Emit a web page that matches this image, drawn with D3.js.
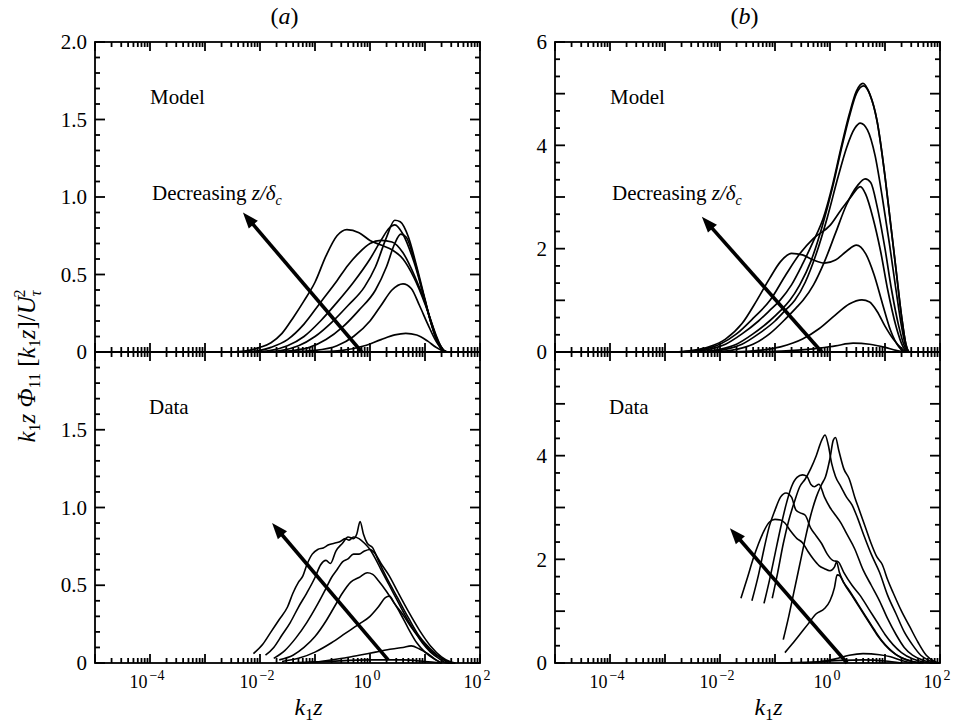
<!DOCTYPE html>
<html>
<head>
<meta charset="utf-8">
<script src="https://cdn.jsdelivr.net/npm/d3@7"></script>
<style>
body{margin:0;background:#fff;}
svg{display:block;font-family:"Liberation Serif","Times New Roman",serif;color:#000;}
</style>
</head>
<body>
<div id="chart"></div>
<script>
// every curve is a list of [log10(k1z), value]
var kTickExp = [-4, -2, 0, 2];
var yTicksA = [0, 0.5, 1.0, 1.5, 2.0];
var yTicksB = [0, 2, 4, 6];

// (a) model
var modelA = [
  [[-2.5,0],[-2.2,0.01],[-2.0,0.03],[-1.8,0.06],[-1.6,0.12],[-1.4,0.22],[-1.2,0.33],[-1.0,0.45],[-0.8,0.62],[-0.6,0.75],[-0.42,0.79],[-0.2,0.77],[0,0.72],[0.2,0.69],[0.4,0.66],[0.6,0.6],[0.8,0.48],[1.0,0.31],[1.1,0.21],[1.2,0.11],[1.3,0.03],[1.4,0],[1.5,0]],
  [[-2.3,0],[-2.0,0.01],[-1.8,0.03],[-1.5,0.08],[-1.2,0.18],[-0.9,0.32],[-0.6,0.46],[-0.4,0.56],[-0.2,0.64],[0,0.7],[0.2,0.72],[0.4,0.71],[0.6,0.64],[0.8,0.5],[1.0,0.32],[1.1,0.21],[1.2,0.1],[1.3,0.03],[1.4,0],[1.5,0]],
  [[-2.1,0],[-1.8,0.01],[-1.5,0.04],[-1.2,0.1],[-0.9,0.2],[-0.6,0.32],[-0.3,0.45],[0,0.6],[0.2,0.72],[0.35,0.8],[0.45,0.82],[0.6,0.76],[0.8,0.58],[1.0,0.33],[1.1,0.2],[1.2,0.09],[1.3,0.02],[1.4,0],[1.5,0]],
  [[-1.9,0],[-1.6,0.01],[-1.3,0.04],[-1.0,0.1],[-0.7,0.19],[-0.4,0.3],[-0.1,0.42],[0.1,0.55],[0.3,0.74],[0.45,0.85],[0.55,0.84],[0.7,0.74],[0.85,0.55],[1.0,0.34],[1.1,0.2],[1.2,0.09],[1.3,0.02],[1.4,0],[1.5,0]],
  [[-1.7,0],[-1.4,0.01],[-1.1,0.03],[-0.8,0.08],[-0.5,0.16],[-0.2,0.27],[0.1,0.4],[0.3,0.55],[0.45,0.7],[0.56,0.76],[0.66,0.74],[0.8,0.6],[0.95,0.4],[1.1,0.2],[1.2,0.09],[1.3,0.02],[1.4,0],[1.5,0]],
  [[-1.5,0],[-1.0,0.01],[-0.6,0.04],[-0.3,0.1],[0,0.2],[0.2,0.3],[0.4,0.4],[0.6,0.44],[0.75,0.41],[0.9,0.3],[1.05,0.18],[1.2,0.07],[1.3,0.02],[1.4,0],[1.5,0]],
  [[-1.0,0],[-0.5,0.01],[-0.1,0.04],[0.2,0.08],[0.45,0.11],[0.65,0.12],[0.85,0.11],[1.05,0.07],[1.2,0.03],[1.35,0.005],[1.5,0]]
];

// (a) data
var dataA = [
  [[-2.12,0.06],[-1.95,0.12],[-1.8,0.2],[-1.65,0.28],[-1.5,0.36],[-1.4,0.45],[-1.3,0.52],[-1.22,0.56],[-1.15,0.63],[-1.05,0.7],[-0.95,0.73],[-0.85,0.74],[-0.75,0.76],[-0.65,0.77],[-0.55,0.78],[-0.45,0.8],[-0.38,0.79],[-0.3,0.81],[-0.2,0.8],[-0.1,0.77],[0.0,0.73],[0.1,0.67],[0.2,0.6],[0.35,0.5],[0.5,0.4],[0.65,0.3],[0.8,0.21],[0.95,0.13],[1.1,0.07],[1.25,0.03],[1.4,0],[1.5,0]],
  [[-1.9,0.05],[-1.75,0.1],[-1.6,0.18],[-1.45,0.26],[-1.3,0.36],[-1.15,0.45],[-1.0,0.55],[-0.9,0.63],[-0.8,0.66],[-0.72,0.64],[-0.62,0.72],[-0.5,0.77],[-0.4,0.81],[-0.3,0.8],[-0.24,0.83],[-0.18,0.91],[-0.12,0.83],[-0.05,0.77],[0.05,0.74],[0.15,0.66],[0.3,0.55],[0.5,0.42],[0.7,0.29],[0.9,0.17],[1.1,0.09],[1.3,0.03],[1.45,0],[1.55,0]],
  [[-1.75,0.03],[-1.55,0.08],[-1.35,0.16],[-1.15,0.26],[-0.95,0.38],[-0.8,0.48],[-0.7,0.55],[-0.6,0.6],[-0.5,0.65],[-0.4,0.67],[-0.3,0.7],[-0.2,0.7],[-0.1,0.72],[0.0,0.73],[0.08,0.71],[0.2,0.64],[0.35,0.56],[0.5,0.46],[0.7,0.33],[0.9,0.21],[1.1,0.11],[1.3,0.04],[1.45,0.01],[1.55,0]],
  [[-1.65,0.02],[-1.4,0.05],[-1.2,0.1],[-1.0,0.17],[-0.8,0.27],[-0.65,0.36],[-0.5,0.45],[-0.35,0.52],[-0.2,0.55],[-0.05,0.58],[0.05,0.57],[0.15,0.53],[0.3,0.46],[0.45,0.38],[0.6,0.31],[0.75,0.23],[0.9,0.16],[1.1,0.08],[1.3,0.03],[1.5,0]],
  [[-1.6,0.01],[-1.3,0.03],[-1.0,0.07],[-0.7,0.13],[-0.45,0.19],[-0.2,0.25],[0.0,0.3],[0.15,0.36],[0.28,0.42],[0.35,0.43],[0.45,0.38],[0.55,0.32],[0.7,0.22],[0.85,0.13],[1.0,0.07],[1.15,0.03],[1.3,0]],
  [[-1.3,0],[-0.9,0.01],[-0.5,0.03],[-0.2,0.05],[0.1,0.07],[0.4,0.09],[0.6,0.1],[0.75,0.11],[0.9,0.09],[1.05,0.06],[1.2,0.02],[1.3,0]],
  [[-1.5,0],[-0.8,0.01],[0,0.02],[0.6,0.02],[1.0,0.01],[1.3,0]]
];

// (b) model
var modelB = [
  [[-2.8,0],[-2.5,0.03],[-2.2,0.1],[-1.9,0.25],[-1.6,0.55],[-1.33,1.0],[-1.1,1.42],[-0.9,1.75],[-0.7,1.91],[-0.5,1.88],[-0.3,1.78],[-0.1,1.72],[0.1,1.78],[0.3,1.95],[0.48,2.07],[0.65,1.9],[0.8,1.5],[0.95,0.95],[1.1,0.42],[1.25,0.1],[1.38,0],[1.5,0]],
  [[-2.7,0],[-2.3,0.05],[-2.0,0.15],[-1.7,0.35],[-1.4,0.65],[-1.09,1.0],[-0.8,1.5],[-0.55,1.9],[-0.3,2.2],[0,2.45],[0.2,2.75],[0.38,3.0],[0.55,3.2],[0.65,3.05],[0.78,2.6],[0.92,1.95],[1.05,1.2],[1.2,0.5],[1.32,0.12],[1.42,0],[1.5,0]],
  [[-2.6,0],[-2.2,0.05],[-1.9,0.15],[-1.6,0.35],[-1.3,0.6],[-1.1,0.8],[-0.91,1.0],[-0.7,1.3],[-0.5,1.7],[-0.3,2.15],[-0.12,2.6],[0.05,3.25],[0.2,3.95],[0.35,4.6],[0.48,5.05],[0.6,5.2],[0.72,5.0],[0.85,4.5],[1.0,3.4],[1.1,2.5],[1.2,1.6],[1.3,0.7],[1.38,0.15],[1.45,0],[1.5,0]],
  [[-2.4,0],[-2.0,0.05],[-1.7,0.15],[-1.4,0.35],[-1.1,0.6],[-0.9,0.8],[-0.73,1.0],[-0.55,1.3],[-0.35,1.75],[-0.15,2.4],[0.05,3.2],[0.2,3.9],[0.35,4.55],[0.48,5.0],[0.61,5.15],[0.73,4.97],[0.86,4.45],[1.0,3.4],[1.1,2.5],[1.2,1.6],[1.3,0.7],[1.38,0.15],[1.45,0],[1.5,0]],
  [[-2.3,0],[-1.9,0.05],[-1.6,0.15],[-1.3,0.35],[-1.0,0.6],[-0.8,0.82],[-0.64,1.0],[-0.45,1.35],[-0.25,1.9],[-0.05,2.6],[0.15,3.4],[0.3,3.95],[0.45,4.33],[0.55,4.43],[0.68,4.3],[0.82,3.8],[0.95,3.0],[1.08,2.1],[1.2,1.2],[1.3,0.5],[1.38,0.1],[1.45,0],[1.5,0]],
  [[-2.1,0],[-1.7,0.05],[-1.4,0.15],[-1.1,0.35],[-0.8,0.65],[-0.62,0.85],[-0.49,1.0],[-0.3,1.3],[-0.1,1.75],[0.1,2.3],[0.3,2.85],[0.5,3.22],[0.64,3.35],[0.74,3.28],[0.86,2.8],[1.0,2.0],[1.12,1.2],[1.25,0.5],[1.35,0.12],[1.42,0],[1.5,0]],
  [[-1.8,0],[-1.3,0.03],[-0.9,0.1],[-0.5,0.25],[-0.2,0.45],[0.1,0.72],[0.35,0.93],[0.58,1.01],[0.72,0.97],[0.86,0.78],[1.0,0.5],[1.15,0.25],[1.3,0.07],[1.4,0],[1.5,0]],
  [[-1.5,0],[-0.8,0.02],[-0.3,0.06],[0.1,0.12],[0.42,0.17],[0.72,0.15],[1.0,0.09],[1.2,0.03],[1.35,0],[1.5,0]]
];

// (b) data
var dataB = [
  [[-1.62,1.25],[-1.5,1.65],[-1.4,2.0],[-1.3,2.3],[-1.2,2.55],[-1.1,2.72],[-1.0,2.77],[-0.9,2.76],[-0.82,2.7],[-0.72,2.55],[-0.6,2.4],[-0.5,2.32],[-0.4,2.15],[-0.3,2.0],[-0.2,1.88],[-0.1,1.82],[0.0,1.78],[0.08,1.85],[0.12,1.95],[0.17,1.75],[0.25,1.55],[0.4,1.3],[0.55,1.05],[0.7,0.8],[0.85,0.55],[1.0,0.35],[1.15,0.2],[1.3,0.1],[1.5,0.03],[1.7,0]],
  [[-1.42,1.2],[-1.3,1.7],[-1.2,2.2],[-1.1,2.65],[-1.0,2.95],[-0.9,3.2],[-0.8,3.28],[-0.7,3.2],[-0.62,2.95],[-0.55,2.9],[-0.45,2.85],[-0.35,2.6],[-0.25,2.45],[-0.15,2.3],[-0.05,2.1],[0.05,1.98],[0.15,1.95],[0.25,1.75],[0.4,1.5],[0.55,1.3],[0.7,1.05],[0.85,0.8],[1.0,0.55],[1.15,0.35],[1.3,0.2],[1.5,0.08],[1.7,0.02],[1.85,0]],
  [[-1.2,1.15],[-1.1,1.6],[-1.0,2.1],[-0.9,2.6],[-0.8,3.05],[-0.7,3.4],[-0.6,3.58],[-0.5,3.63],[-0.42,3.6],[-0.35,3.45],[-0.28,3.4],[-0.2,3.45],[-0.1,3.2],[0.0,3.0],[0.1,2.85],[0.2,2.7],[0.3,2.5],[0.45,2.2],[0.6,1.8],[0.75,1.5],[0.9,1.2],[1.05,0.85],[1.2,0.55],[1.35,0.3],[1.5,0.15],[1.7,0.05],[1.9,0]],
  [[-1.05,1.25],[-0.95,1.75],[-0.85,2.3],[-0.75,2.75],[-0.65,3.1],[-0.55,3.4],[-0.45,3.55],[-0.35,3.75],[-0.25,4.0],[-0.15,4.3],[-0.09,4.4],[-0.03,4.2],[0.03,3.85],[0.1,3.6],[0.2,3.4],[0.3,3.2],[0.4,3.05],[0.5,2.8],[0.62,2.45],[0.75,2.1],[0.9,1.75],[1.05,1.3],[1.2,0.95],[1.35,0.6],[1.5,0.35],[1.65,0.15],[1.8,0.05],[1.95,0]],
  [[-0.85,0.45],[-0.75,0.9],[-0.65,1.4],[-0.55,1.9],[-0.45,2.4],[-0.35,2.85],[-0.25,3.2],[-0.15,3.45],[-0.08,3.6],[0.0,3.95],[0.06,4.3],[0.1,4.35],[0.16,4.1],[0.25,3.75],[0.35,3.55],[0.45,3.2],[0.55,2.9],[0.65,2.6],[0.75,2.3],[0.85,2.05],[0.95,1.9],[1.05,1.6],[1.15,1.35],[1.3,1.0],[1.45,0.7],[1.6,0.4],[1.75,0.15],[1.9,0.03],[2.0,0]],
  [[-0.82,0.2],[-0.7,0.35],[-0.55,0.55],[-0.4,0.75],[-0.25,0.95],[-0.1,1.05],[0.0,1.2],[0.08,1.45],[0.13,1.7],[0.18,1.68],[0.25,1.55],[0.35,1.4],[0.5,1.15],[0.65,0.9],[0.8,0.65],[0.95,0.42],[1.1,0.25],[1.3,0.1],[1.5,0.03],[1.65,0]],
  [[-0.5,0],[-0.2,0.02],[0.1,0.08],[0.35,0.15],[0.6,0.18],[0.9,0.16],[1.1,0.12],[1.3,0.05],[1.5,0]],
  [[-1.0,0],[-0.3,0.02],[0.2,0.05],[0.6,0.06],[1.0,0.04],[1.3,0]]
];

// arrows: [tail, head] in [log10(k1z), value]
var arrowsA = [[[-0.15,0],[-2.31,0.9]], [[0.33,0.02],[-1.78,0.9]]];
var arrowsB = [[[-0.15,0],[-2.33,2.62]], [[0.31,0],[-1.82,2.6]]];

var W = 954, H = 725;
var yTop = 42, yMid = 352, yBot = 663;

var svg = d3.select("#chart").append("svg")
  .attr("width", W)
  .attr("height", H);

svg.append("rect").attr("width", W).attr("height", H).attr("fill", "#fff");

var panels = [
  {name:"a", x0:95, x1:480, ymax:2, labels:yTicksA, minorStep:0.1, midStep:0.5,
   fmt:function(d){ return d === 0 ? "0" : d3.format(".1f")(d); },
   top:modelA, bottom:dataA, arrows:arrowsA},
  {name:"b", x0:555, x1:940, ymax:6, labels:yTicksB, minorStep:1/3, midStep:1,
   fmt:function(d){ return String(d); },
   top:modelB, bottom:dataB, arrows:arrowsB}
];

panels.forEach(drawPanel);

function drawPanel(p){
  var x = d3.scaleLog().domain([1e-5, 1e2]).range([p.x0, p.x1]);
  var yU = d3.scaleLinear().domain([0, p.ymax]).range([yMid, yTop]);
  var yL = d3.scaleLinear().domain([0, p.ymax]).range([yBot, yMid]);
  var g = svg.append("g").attr("class", "panel-" + p.name);
  var tg = g.append("g").attr("class", "ticks").attr("stroke", "#000").attr("stroke-width", 1.8);

  var allK = x.ticks();
  var isMajor = function(t){ var l = Math.log10(t); return Math.abs(l - Math.round(l)) < 1e-6; };

  // x ticks on top edge, middle line (both ways) and bottom edge
  function xTicks(y0, dir){
    tg.append("g").selectAll("line").data(allK).enter().append("line")
    .attr("x1", function(d){ return x(d); })
    .attr("x2", function(d){ return x(d); })
    .attr("y1", y0)
    .attr("y2", function(d){ return y0 + dir * (isMajor(d) ? 9 : 5); });
  }
  xTicks(yTop, 1);
  xTicks(yMid, -1);
  xTicks(yMid, 1);
  xTicks(yBot, -1);

  // y ticks, both sides, both plots
  var nMinor = Math.round(p.ymax / p.minorStep);
  var minorY = d3.range(0, nMinor + 1).map(function(i){ return i * p.minorStep; });
  var isMid = function(v){ var r = v / p.midStep; return Math.abs(r - Math.round(r)) < 1e-6; };

  [yU, yL].forEach(function(y, idx){
    [[p.x0, 1], [p.x1, -1]].forEach(function(side){
      tg.append("g").selectAll("line").data(minorY).enter().append("line")
      .attr("y1", function(d){ return y(d); })
      .attr("y2", function(d){ return y(d); })
      .attr("x1", side[0])
      .attr("x2", function(d){ return side[0] + side[1] * (isMid(d) ? 10 : 5); });
    });
    var lab = idx === 0 ? p.labels : p.labels.filter(function(d){ return d < p.ymax; });
    g.append("g").attr("transform", "translate(" + p.x0 + ",0)")
    .call(d3.axisLeft(y).tickValues(lab).tickSize(0).tickPadding(8).tickFormat(p.fmt))
    .call(function(s){
      s.select(".domain").remove();
      s.selectAll("text").attr("font-family", "Liberation Serif, serif").attr("font-size", 21).attr("fill", "#000");
    });
  });

  // frame
  g.append("rect")
  .attr("x", p.x0).attr("y", yTop)
  .attr("width", p.x1 - p.x0).attr("height", yBot - yTop)
  .attr("fill", "none").attr("stroke", "#000").attr("stroke-width", 1.8);
  g.append("line")
  .attr("x1", p.x0).attr("x2", p.x1).attr("y1", yMid).attr("y2", yMid)
  .attr("stroke", "#000").attr("stroke-width", 1.8);

  // curves
  function lineFor(y){
    return d3.line()
    .x(function(d){ return x(Math.pow(10, d[0])); })
    .y(function(d){ return y(d[1]); })
    .curve(d3.curveMonotoneX);
  }
  g.append("g").selectAll("path").data(p.top).enter().append("path")
  .attr("d", lineFor(yU))
  .attr("fill", "none").attr("stroke", "#000").attr("stroke-width", 1.7);
  g.append("g").selectAll("path").data(p.bottom).enter().append("path")
  .attr("d", lineFor(yL))
  .attr("fill", "none").attr("stroke", "#000").attr("stroke-width", 1.6);

  // arrows
  [yU, yL].forEach(function(y, i){
    var a = p.arrows[i];
    var t = [x(Math.pow(10, a[0][0])), y(a[0][1])],
    h = [x(Math.pow(10, a[1][0])), y(a[1][1])];
    var dx = h[0] - t[0], dy = h[1] - t[1], len = Math.sqrt(dx*dx + dy*dy);
    var ux = dx / len, uy = dy / len, L = 16, Wd = 6;
    var b = [h[0] - ux * L, h[1] - uy * L];
    g.append("line")
    .attr("x1", t[0]).attr("y1", t[1]).attr("x2", b[0] + ux * 2).attr("y2", b[1] + uy * 2)
    .attr("stroke", "#000").attr("stroke-width", 3.6);
    g.append("path")
    .attr("d", "M" + h[0] + "," + h[1] + "L" + (b[0] - uy * Wd) + "," + (b[1] + ux * Wd) +
      "L" + (b[0] + uy * Wd) + "," + (b[1] - ux * Wd) + "Z")
    .attr("fill", "#000");
  });

  // x tick labels 10^n
  var lbl = g.append("g").selectAll("text").data(kTickExp).enter().append("text")
  .attr("x", function(d){ return x(Math.pow(10, d)) - 3; })
  .attr("y", 688)
  .attr("text-anchor", "middle")
  .attr("font-size", 18);
  lbl.append("tspan").text("10");
  lbl.append("tspan").attr("dx", 2).attr("dy", -8).attr("font-size", 14)
  .text(function(d){ return d < 0 ? "\u2212" + (-d) : d; });

  // annotations
  var tx = x(1e-4);
  g.append("text").attr("x", tx).attr("y", yU(p.ymax * 0.8)).attr("font-size", 21).text("Model");
  g.append("text").attr("x", tx - 1).attr("y", yL(p.ymax * 0.8)).attr("font-size", 21).text("Data");
  var dec = g.append("text").attr("x", tx + 2).attr("y", yU(p.ymax * 0.49)).attr("font-size", 21);
  dec.append("tspan").text("Decreasing ");
  dec.append("tspan").attr("font-style", "italic").text("z/\u03b4");
  dec.append("tspan").attr("font-style", "italic").attr("font-size", 14).attr("dy", 5).text("c");

  // panel title
  var ttl = g.append("text").attr("x", (p.x0 + p.x1) / 2 - 3).attr("y", 24)
  .attr("text-anchor", "middle").attr("font-size", 24);
  ttl.append("tspan").text("(");
  ttl.append("tspan").attr("font-style", "italic").text(p.name);
  ttl.append("tspan").text(")");

  // x axis title
  var xt = g.append("text").attr("x", (p.x0 + p.x1) / 2 + 21).attr("y", 715)
  .attr("text-anchor", "middle").attr("font-size", 24);
  xt.append("tspan").attr("font-style", "italic").text("k");
  xt.append("tspan").attr("font-size", 16).attr("dy", 5).text("1");
  xt.append("tspan").attr("font-style", "italic").attr("dy", -5).text("z");
}

// shared y-axis title
var yt = svg.append("text")
  .attr("transform", "translate(35," + (yMid + 14) + ") rotate(-90)")
  .attr("text-anchor", "middle")
  .attr("font-size", 25);
yt.append("tspan").attr("font-style", "italic").text("k");
yt.append("tspan").attr("font-size", 16).attr("dy", 5).text("1");
yt.append("tspan").attr("font-style", "italic").attr("dy", -5).text("z ");
yt.append("tspan").attr("font-style", "italic").text("\u03a6");
yt.append("tspan").attr("font-size", 16).attr("dy", 5).text("11");
yt.append("tspan").attr("dy", -5).text(" [");
yt.append("tspan").attr("font-style", "italic").text("k");
yt.append("tspan").attr("font-size", 16).attr("dy", 5).text("1");
yt.append("tspan").attr("font-style", "italic").attr("dy", -5).text("z");
yt.append("tspan").text("]/");
yt.append("tspan").attr("font-style", "italic").text("U");
yt.append("tspan").attr("font-style", "italic").attr("font-size", 16).attr("dy", 6).text("\u03c4");
yt.append("tspan").attr("font-size", 16).attr("dx", -7).attr("dy", -16).text("2");
</script>
</body>
</html>
